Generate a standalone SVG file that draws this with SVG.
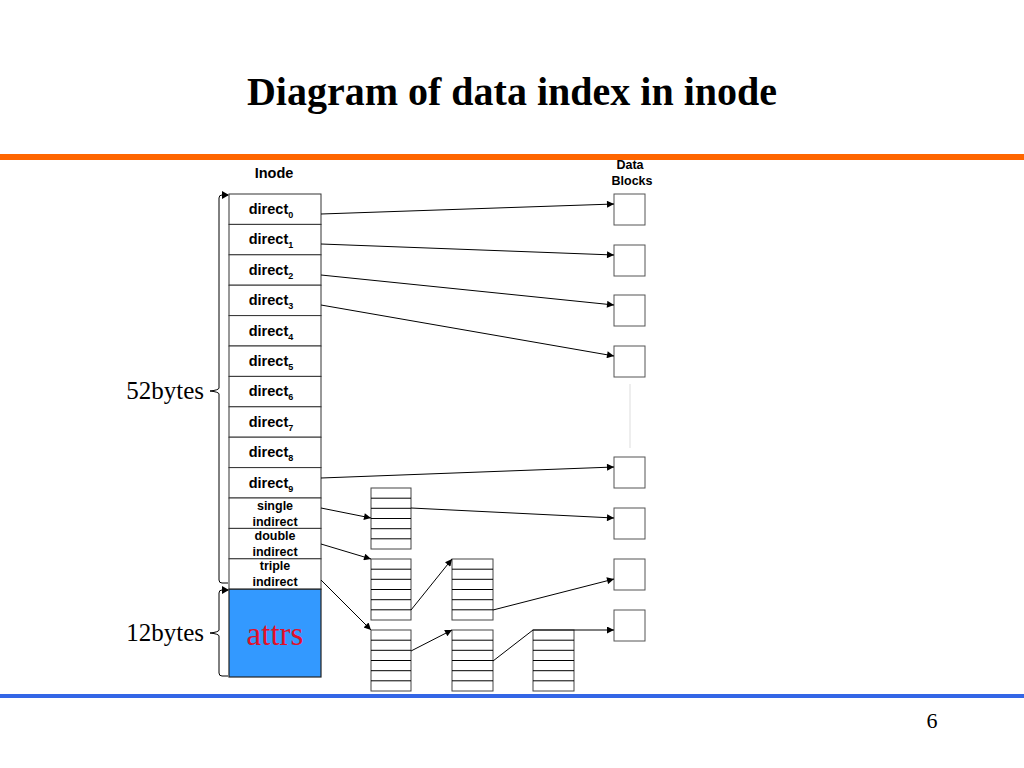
<svg xmlns="http://www.w3.org/2000/svg" width="1024" height="768" viewBox="0 0 1024 768">
<defs>
<marker id="ah" viewBox="0 0 10 10" refX="10" refY="5" markerWidth="9" markerHeight="7" markerUnits="userSpaceOnUse" orient="auto">
<path d="M0,0 L10,5 L0,10 z" fill="#000"/>
</marker>
</defs>
<style>
.cell{fill:#fff;stroke:#333;stroke-width:1}
.blk{fill:#fff;stroke:#555;stroke-width:1}
.lbl{font-family:"Liberation Sans",Arial,sans-serif;font-weight:bold;font-size:14.5px;fill:#000;text-anchor:middle}
.sm{font-family:"Liberation Sans",Arial,sans-serif;font-weight:bold;font-size:12.5px;fill:#000;text-anchor:middle}
.sub{font-size:9px}
.con{stroke:#000;stroke-width:1;fill:none}
.conA{stroke:#000;stroke-width:1;fill:none;marker-end:url(#ah)}
.serif{font-family:"Liberation Serif","Times New Roman",serif;fill:#000}
.ib{fill:#fff;stroke:#444;stroke-width:1}
</style>
<rect width="1024" height="768" fill="#fff"/>
<text x="512" y="105" class="serif" font-size="40" font-weight="bold" text-anchor="middle">Diagram of data index in inode</text>
<rect x="0" y="154" width="1024" height="6" fill="#FF6600"/>
<rect x="0" y="694" width="1024" height="4" fill="#3366E6"/>
<text x="932" y="728" class="serif" font-size="22" text-anchor="middle">6</text>

<g id="inode">
<text x="274" y="178" class="lbl">Inode</text>
<rect class="cell" x="229" y="194" width="92" height="30.4"/>
<rect class="cell" x="229" y="224.4" width="92" height="30.4"/>
<rect class="cell" x="229" y="254.8" width="92" height="30.4"/>
<rect class="cell" x="229" y="285.2" width="92" height="30.4"/>
<rect class="cell" x="229" y="315.6" width="92" height="30.4"/>
<rect class="cell" x="229" y="346" width="92" height="30.4"/>
<rect class="cell" x="229" y="376.4" width="92" height="30.4"/>
<rect class="cell" x="229" y="406.8" width="92" height="30.4"/>
<rect class="cell" x="229" y="437.2" width="92" height="30.4"/>
<rect class="cell" x="229" y="467.6" width="92" height="30.4"/>
<rect class="cell" x="229" y="498" width="92" height="30.4"/>
<rect class="cell" x="229" y="528.4" width="92" height="30.4"/>
<rect class="cell" x="229" y="558.8" width="92" height="30.4"/>
<rect x="229" y="589.2" width="92" height="87.8" fill="#3399FF" stroke="#222" stroke-width="1.2"/>
<text x="271" y="214" class="lbl">direct<tspan class="sub" dy="4">0</tspan></text>
<text x="271" y="244.4" class="lbl">direct<tspan class="sub" dy="4">1</tspan></text>
<text x="271" y="274.8" class="lbl">direct<tspan class="sub" dy="4">2</tspan></text>
<text x="271" y="305.2" class="lbl">direct<tspan class="sub" dy="4">3</tspan></text>
<text x="271" y="335.6" class="lbl">direct<tspan class="sub" dy="4">4</tspan></text>
<text x="271" y="366" class="lbl">direct<tspan class="sub" dy="4">5</tspan></text>
<text x="271" y="396.4" class="lbl">direct<tspan class="sub" dy="4">6</tspan></text>
<text x="271" y="426.8" class="lbl">direct<tspan class="sub" dy="4">7</tspan></text>
<text x="271" y="457.2" class="lbl">direct<tspan class="sub" dy="4">8</tspan></text>
<text x="271" y="487.6" class="lbl">direct<tspan class="sub" dy="4">9</tspan></text>
<text x="275" y="510" class="sm">single</text>
<text x="275" y="525.5" class="sm">indirect</text>
<text x="275" y="540" class="sm">double</text>
<text x="275" y="556" class="sm">indirect</text>
<text x="275" y="570" class="sm">triple</text>
<text x="275" y="586" class="sm">indirect</text>
<text x="275" y="645" class="serif" font-size="33" text-anchor="middle" style="fill:#E0102A">attrs</text>
</g>

<g id="brackets">
<path class="con" d="M228,195 L222,195 Q219,195 219,198 L219,388 Q219,390 210,391 Q219,392 219,394 L219,580 Q219,583 222,583 L228,583" stroke-width="1.3"/>
<path d="M222,191 L229,195 L222,199 z" fill="#000"/>
<path class="con" d="M228,590 L222,590 Q219,590 219,593 L219,630 Q219,632 210,633 Q219,634 219,636 L219,673 Q219,676 222,676 L228,676" stroke-width="1.3"/>
<path d="M222,586 L229,590 L222,594 z" fill="#000"/>
<text x="204" y="399" class="serif" font-size="25" text-anchor="end">52bytes</text>
<text x="204" y="641" class="serif" font-size="25" text-anchor="end">12bytes</text>
</g>

<g id="datablocks">
<text x="630" y="169" class="sm">Data</text>
<text x="632" y="185" class="sm">Blocks</text>
<rect class="blk" x="614" y="194" width="31" height="31"/>
<rect class="blk" x="614" y="245" width="31" height="31"/>
<rect class="blk" x="614" y="295" width="31" height="31"/>
<rect class="blk" x="614" y="346" width="31" height="31"/>
<rect class="blk" x="614" y="457" width="31" height="31"/>
<rect class="blk" x="614" y="508" width="31" height="31"/>
<rect class="blk" x="614" y="559" width="31" height="31"/>
<rect class="blk" x="614" y="610" width="31" height="31"/>
<line x1="630" y1="384" x2="630" y2="448" stroke="#ddd" stroke-width="1"/>
</g>

<g id="indirect1">
<rect class="ib" x="371" y="488" width="40" height="61"/>
<path class="con" d="M371,498.2H411M371,508.3H411M371,518.5H411M371,528.7H411M371,538.8H411" stroke="#444"/>
</g>
<g id="indirect2a">
<rect class="ib" x="371" y="559" width="40" height="61"/>
<path class="con" d="M371,569.2H411M371,579.3H411M371,589.5H411M371,599.7H411M371,609.8H411" stroke="#444"/>
</g>
<g id="indirect2b">
<rect class="ib" x="452" y="559" width="41" height="61"/>
<path class="con" d="M452,569.2H493M452,579.3H493M452,589.5H493M452,599.7H493M452,609.8H493" stroke="#444"/>
</g>
<g id="indirect3a">
<rect class="ib" x="371" y="630" width="40" height="61"/>
<path class="con" d="M371,640.2H411M371,650.3H411M371,660.5H411M371,670.7H411M371,680.8H411" stroke="#444"/>
</g>
<g id="indirect3b">
<rect class="ib" x="452" y="630" width="41" height="61"/>
<path class="con" d="M452,640.2H493M452,650.3H493M452,660.5H493M452,670.7H493M452,680.8H493" stroke="#444"/>
</g>
<g id="indirect3c">
<rect class="ib" x="533" y="630" width="41" height="61"/>
<path class="con" d="M533,640.2H574M533,650.3H574M533,660.5H574M533,670.7H574M533,680.8H574" stroke="#444"/>
</g>

<g id="connectors">
<line class="conA" x1="321" y1="214" x2="614" y2="204"/>
<line class="conA" x1="321" y1="244" x2="614" y2="255"/>
<line class="conA" x1="321" y1="275" x2="614" y2="305"/>
<line class="conA" x1="321" y1="305" x2="614" y2="356"/>
<line class="conA" x1="321" y1="478" x2="614" y2="467"/>
<line class="conA" x1="321" y1="508" x2="371" y2="518"/>
<line class="conA" x1="411" y1="508" x2="614" y2="518"/>
<line class="conA" x1="321" y1="544" x2="371" y2="559"/>
<line class="conA" x1="411" y1="610" x2="452" y2="559"/>
<line class="conA" x1="493" y1="610" x2="614" y2="579"/>
<line class="conA" x1="321" y1="580" x2="371" y2="630"/>
<line class="conA" x1="411" y1="651" x2="452" y2="630"/>
<path class="conA" d="M493,661 L533,630 L614,630"/>
</g>
</svg>
